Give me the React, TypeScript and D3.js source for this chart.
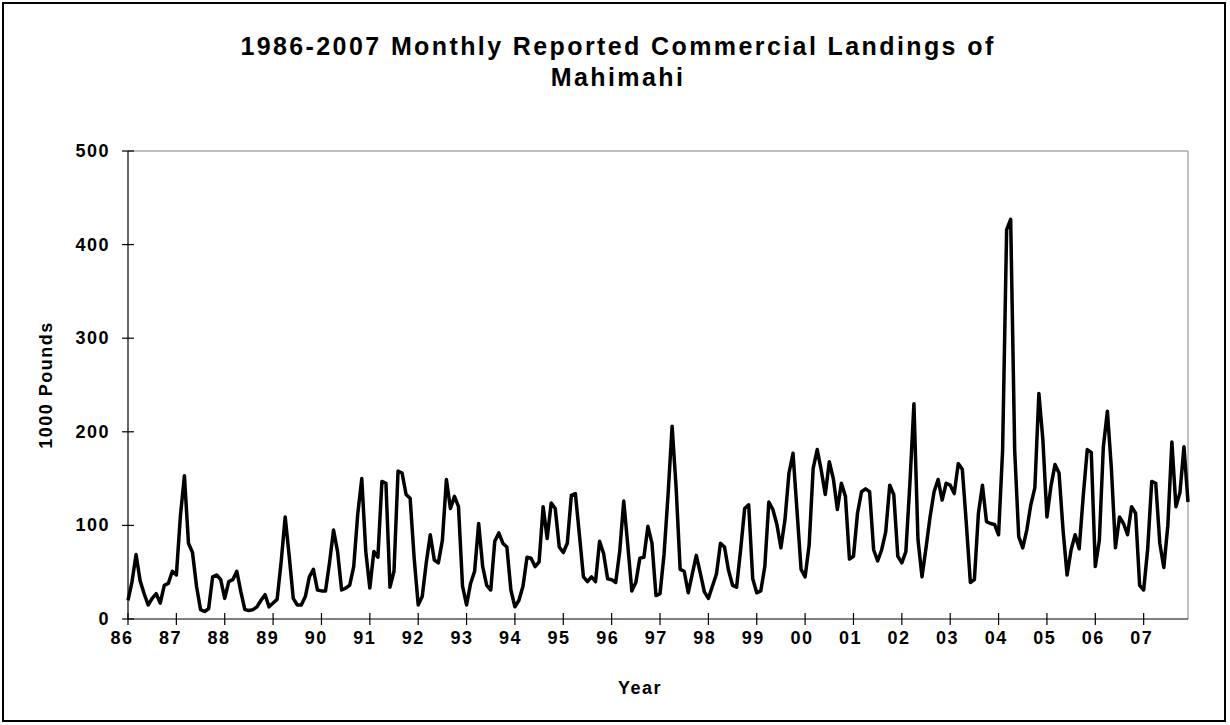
import React from "react";
import * as d3 from "d3";

const yearLabels = ["86","87","88","89","90","91","92","93","94","95","96","97","98","99","00","01","02","03","04","05","06","07"];
const yTicks = [0, 100, 200, 300, 400, 500];

const y1986 = [20, 40, 69, 41, 27, 15, 22, 27, 17, 36, 38, 51];
const y1987 = [47, 110, 153, 81, 71, 35, 10, 8, 11, 45, 47, 42];
const y1988 = [22, 40, 42, 51, 29, 10, 9, 10, 13, 20, 26, 13];
const y1989 = [17, 21, 61, 109, 67, 22, 15, 15, 24, 45, 53, 31];
const y1990 = [30, 30, 60, 95, 72, 31, 33, 36, 56, 112, 150, 72];
const y1991 = [33, 72, 66, 147, 145, 34, 51, 158, 156, 133, 129, 65];
const y1992 = [15, 24, 60, 90, 63, 60, 84, 149, 118, 131, 120, 35];
const y1993 = [15, 38, 51, 102, 56, 36, 31, 83, 92, 81, 77, 31];
const y1994 = [13, 20, 35, 66, 65, 56, 61, 120, 86, 124, 118, 77];
const y1995 = [71, 81, 132, 134, 90, 45, 40, 45, 40, 83, 70, 43];
const y1996 = [42, 39, 72, 126, 79, 30, 39, 65, 66, 99, 81, 25];
const y1997 = [27, 69, 133, 206, 140, 53, 51, 28, 48, 68, 49, 29];
const y1998 = [22, 35, 48, 81, 77, 52, 36, 34, 74, 118, 122, 43];
const y1999 = [28, 30, 56, 125, 117, 101, 76, 106, 156, 177, 115, 53];
const y2000 = [45, 79, 161, 181, 159, 133, 168, 150, 117, 145, 131, 64];
const y2001 = [67, 113, 136, 139, 136, 74, 62, 74, 93, 143, 133, 67];
const y2002 = [60, 72, 145, 230, 85, 45, 76, 109, 136, 149, 127, 145];
const y2003 = [143, 134, 166, 160, 102, 39, 42, 113, 143, 104, 102, 101];
const y2004 = [90, 180, 416, 427, 180, 88, 76, 95, 122, 140, 241, 191];
const y2005 = [109, 142, 165, 156, 95, 47, 74, 90, 75, 131, 181, 178];
const y2006 = [56, 84, 184, 222, 160, 76, 109, 102, 90, 120, 113, 36];
const y2007 = [31, 75, 147, 145, 81, 55, 100, 189, 120, 135, 184, 125];

const landings: number[] = [
  ...y1986, ...y1987, ...y1988, ...y1989, ...y1990, ...y1991, ...y1992, ...y1993,
  ...y1994, ...y1995, ...y1996, ...y1997, ...y1998, ...y1999, ...y2000, ...y2001,
  ...y2002, ...y2003, ...y2004, ...y2005, ...y2006, ...y2007,
];

const W = 1230;
const H = 725;
const left = 128, right = 1188, top = 151, bottom = 619;
const font = "'Liberation Sans', Arial, sans-serif";

export default function App() {
  const x = d3.scaleLinear().domain([0, landings.length - 1]).range([left, right]);
  const y = d3.scaleLinear().domain([0, 500]).range([bottom, top]);
  const line = d3.line<number>().x((_, i) => x(i)).y((d) => y(d));

  return (
    <svg width={W} height={H} style={{ position: "absolute", left: 0, top: 0, background: "#fff" }}>
      <rect x={0} y={0} width={W} height={H} fill="#fff" />
      <rect x={3} y={3} width={1222} height={718} fill="none" stroke="#000" strokeWidth={2} />
      <text x={618} y={55} textAnchor="middle" fontFamily={font} fontWeight="bold" fontSize={25} letterSpacing={2.4}>
        1986-2007 Monthly Reported Commercial Landings of
      </text>
      <text x={618} y={86} textAnchor="middle" fontFamily={font} fontWeight="bold" fontSize={25} letterSpacing={2.4}>
        Mahimahi
      </text>
      {/* plot frame */}
      <line x1={left} y1={top} x2={right} y2={top} stroke="#808080" strokeWidth={1} />
      <line x1={right} y1={top} x2={right} y2={bottom} stroke="#808080" strokeWidth={1} />
      <line x1={left} y1={top} x2={left} y2={bottom} stroke="#000" strokeWidth={1.2} />
      <line x1={left} y1={bottom} x2={right} y2={bottom} stroke="#000" strokeWidth={1.2} />
      {yTicks.map((t) => (
        <g key={t}>
          <line x1={left - 6} x2={left + 6} y1={y(t)} y2={y(t)} stroke="#000" strokeWidth={1.2} />
          <text x={left - 18} y={y(t) + 6} textAnchor="end" fontFamily={font} fontWeight="bold" fontSize={18} letterSpacing={1.5}>
            {t}
          </text>
        </g>
      ))}
      {yearLabels.map((lab, k) => (
        <g key={lab}>
          <line x1={x(k * 12)} x2={x(k * 12)} y1={bottom - 6} y2={bottom + 6} stroke="#000" strokeWidth={1.2} />
          <text x={x(k * 12) - 6 + k * 0.2} y={bottom + 25} textAnchor="middle" fontFamily={font} fontWeight="bold" fontSize={18} letterSpacing={1.5}>
            {lab}
          </text>
        </g>
      ))}
      <text x={640} y={694} textAnchor="middle" fontFamily={font} fontWeight="bold" fontSize={18} letterSpacing={1.5}>
        Year
      </text>
      <text transform={`translate(52,385) rotate(-90)`} textAnchor="middle" fontFamily={font} fontWeight="bold" fontSize={18} letterSpacing={1.5}>
        1000 Pounds
      </text>
      <path d={line(landings) || ""} fill="none" stroke="#000" strokeWidth={3.5} strokeLinejoin="round" />
    </svg>
  );
}
